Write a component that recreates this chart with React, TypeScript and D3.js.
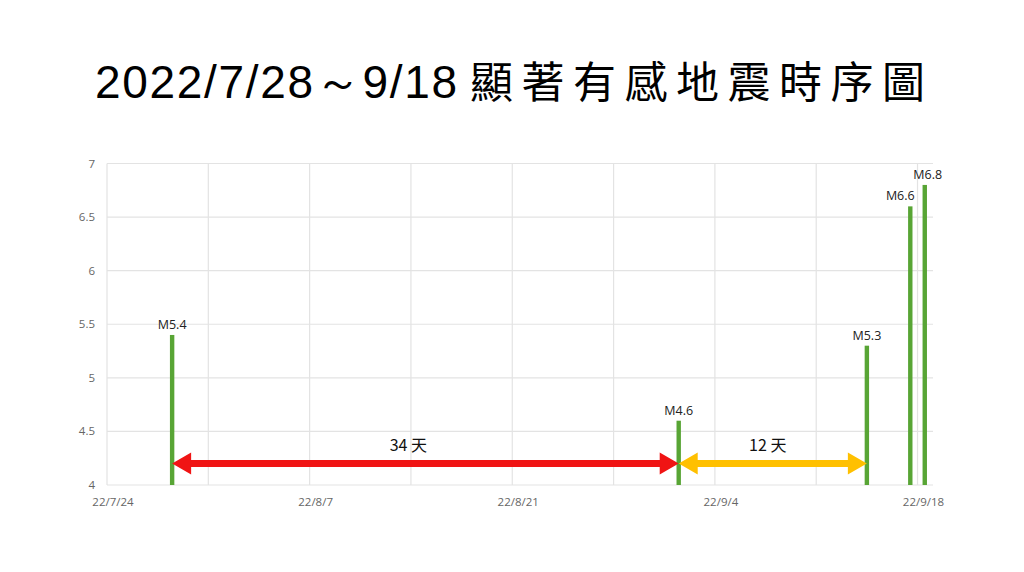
import React from "react";
import * as d3 from "d3";

// events: date (drawn at noon of the day) and magnitude
const eventDates = ["2022-07-28", "2022-09-01", "2022-09-14", "2022-09-17", "2022-09-18"];
const magnitudes = [5.4, 4.6, 5.3, 6.6, 6.8];
const eventLabels = ["M5.4", "M4.6", "M5.3", "M6.6", "M6.8"];

const xTickDates = ["2022-07-24", "2022-08-07", "2022-08-21", "2022-09-04", "2022-09-18"];
const xTickLabels = ["22/7/24", "22/8/7", "22/8/21", "22/9/4", "22/9/18"];
const yTicks = [4, 4.5, 5, 5.5, 6, 6.5, 7];

// interval arrows between events
const arrowFrom = [0, 1];
const arrowTo = [1, 2];
const arrowLabels = ["34 天", "12 天"];
const arrowLevel = 4.2;

const titleNumbers = "2022/7/28～9/18";
const titleText = "顯著有感地震時序圖";

const W = 1024;
const H = 572;
const M = { left: 107, right: 92, top: 163.5, bottom: 87 };

const parse = (s: string) => new Date(s + "T00:00:00");
const atNoon = (s: string) => new Date(s + "T12:00:00");

export default function App() {
  const start = parse("2022-07-24");
  const end = parse("2022-09-19");
  const x = d3.scaleTime().domain([start, end]).range([M.left, W - M.right]);
  const y = d3.scaleLinear().domain([4, 7]).range([H - M.bottom, M.top]);

  const gridDays = d3.timeDay.range(start, end, 7);

  const arrowPath = (x1: number, x2: number, yy: number) => {
    const hl = 19;
    const hw = 11;
    const sw = 3.5;
    const a = x1 + hl;
    const b = x2 - hl;
    const p = d3.path();
    p.moveTo(x1, yy);
    p.lineTo(a, yy - hw);
    p.lineTo(a, yy - sw);
    p.lineTo(b, yy - sw);
    p.lineTo(b, yy - hw);
    p.lineTo(x2, yy);
    p.lineTo(b, yy + hw);
    p.lineTo(b, yy + sw);
    p.lineTo(a, yy + sw);
    p.lineTo(a, yy + hw);
    p.closePath();
    return p.toString();
  };

  const arrowColors = ["#f01414", "#ffc000"];
  const arrowLabelShift = [-17, -5];
  const barLabelShift = [0, 0, 0, -10, 3];

  return (
    <svg
      width={W}
      height={H}
      style={{ position: "absolute", left: 0, top: 0, background: "#fff" }}
    >
      <text y={98} fill="#000">
        <tspan
          x={95}
          fontFamily="'Liberation Sans', Arial, sans-serif"
          fontSize={46}
          textLength={362}
        >
          {titleNumbers}
        </tspan>
        <tspan
          x={470}
          fontFamily="'Noto Sans CJK TC', sans-serif"
          fontSize={43}
          letterSpacing={8.5}
        >
          {titleText}
        </tspan>
      </text>

      {/* grid */}
      <g stroke="#e3e3e3" strokeWidth={1.2}>
        {yTicks.map((t) => (
          <line key={t} x1={M.left} x2={W - M.right + 1} y1={y(t)} y2={y(t)} />
        ))}
        {gridDays.map((d, i) => (
          <line key={i} x1={x(d)} x2={x(d)} y1={M.top} y2={H - M.bottom} />
        ))}
      </g>

      {/* axis labels */}
      <g fontFamily="'Open Sans', sans-serif" fontSize={11.5} fill="#666">
        {yTicks.map((t) => (
          <text key={t} x={95} y={y(t)} dy="0.35em" textAnchor="end">
            {t}
          </text>
        ))}
        {xTickDates.map((d, i) => (
          <text key={d} x={x(parse(d)) + 6} y={506} textAnchor="middle">
            {xTickLabels[i]}
          </text>
        ))}
      </g>

      {/* bars */}
      <g>
        {eventDates.map((d, i) => (
          <rect
            key={d}
            x={x(atNoon(d)) - 2.2}
            width={4.4}
            y={y(magnitudes[i])}
            height={y(4) - y(magnitudes[i])}
            fill="#58a535"
          />
        ))}
      </g>
      <g fontFamily="'Open Sans', sans-serif" fontSize={12.5} fill="#222" textAnchor="middle">
        {eventDates.map((d, i) => (
          <text key={d} x={x(atNoon(d)) + barLabelShift[i]} y={y(magnitudes[i]) - 6}>
            {eventLabels[i]}
          </text>
        ))}
      </g>

      {/* arrows */}
      {arrowFrom.map((f, i) => {
        const x1 = x(atNoon(eventDates[f]));
        const x2 = x(atNoon(eventDates[arrowTo[i]]));
        const yy = y(arrowLevel);
        return (
          <g key={i}>
            <path d={arrowPath(x1, x2, yy)} fill={arrowColors[i]} />
            <text
              x={(x1 + x2) / 2 + arrowLabelShift[i]}
              y={yy - 13}
              textAnchor="middle"
              fontFamily="'Noto Sans CJK TC', sans-serif"
              fontSize={16}
              fill="#111"
            >
              {arrowLabels[i]}
            </text>
          </g>
        );
      })}
    </svg>
  );
}
